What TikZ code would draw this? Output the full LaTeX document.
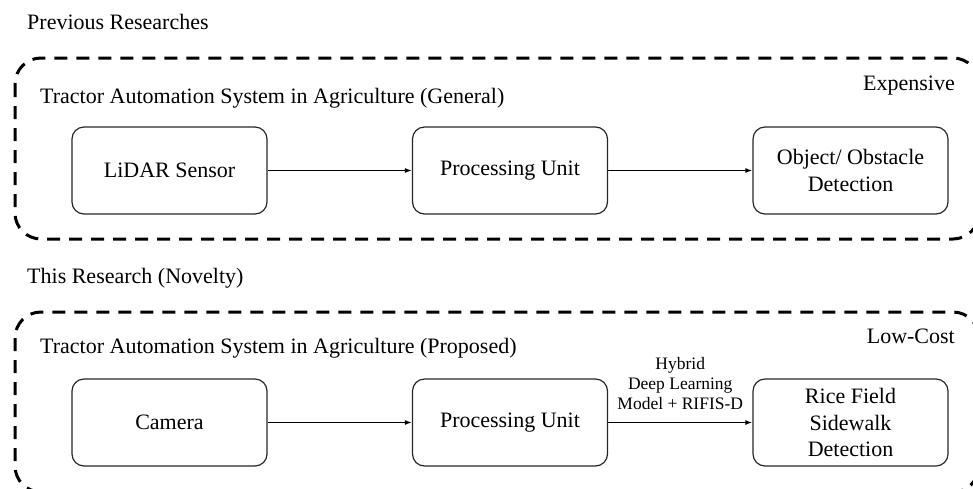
\documentclass[tikz,border=0pt]{standalone}
\usepackage{fontspec}
\setmainfont{Liberation Serif}
\usetikzlibrary{arrows.meta}
\begin{document}
\begin{tikzpicture}[x=1pt,y=-1pt,
  frame/.style={draw=black, line width=3pt, dash pattern=on 13pt off 9pt, rounded corners=26pt},
  blk/.style={draw=black!85, line width=1.2pt, rounded corners=12pt, minimum width=195pt, minimum height=87pt, align=center, font=\fontsize{22}{26.5}\selectfont, inner sep=2pt},
  lbl/.style={font=\fontsize{22}{26}\selectfont, inner sep=0pt},
  small/.style={font=\fontsize{17.5}{20}\selectfont, align=center, inner sep=0pt},
  conn/.style={draw=black, line width=1.4pt, -{Latex[length=7pt,width=5pt]}}]
\useasboundingbox (0,0) rectangle (973,488);
% top section
\node[lbl, anchor=base west] (t1) at (27,29) {Previous Researches};
\draw[frame] (15,58) rectangle (979,239);
\node[lbl, anchor=base west] (g1) at (40,103) {Tractor Automation System in Agriculture (General)};
\node[lbl, anchor=base east] (e1) at (955,90) {Expensive};
\node[blk] (lidar) at (169.5,170.5) {LiDAR Sensor};
\node[blk] (pu1) at (510,170.5) {Processing Unit};
\node[blk] (obj) at (850.5,170.5) {Object/ Obstacle\\Detection};
\draw[conn] (lidar) -- (pu1);
\draw[conn] (pu1) -- (obj);
% bottom section
\node[lbl, anchor=base west] (t2) at (27,283) {This Research (Novelty)};
\draw[frame] (15,312) rectangle (979,492);
\node[lbl, anchor=base west] (g2) at (40,353) {Tractor Automation System in Agriculture (Proposed)};
\node[lbl, anchor=base east] (e2) at (955,343) {Low-Cost};
\node[blk] (cam) at (169.5,422.5) {Camera};
\node[blk] (pu2) at (510,422.5) {Processing Unit};
\node[blk] (rice) at (850.5,422.5) {Rice Field\\Sidewalk\\Detection};
\draw[conn] (cam) -- (pu2);
\draw[conn] (pu2) -- node[small, above=12pt] (hyb) {Hybrid\\Deep Learning\\Model + RIFIS-D} (rice);
\end{tikzpicture}
\end{document}
